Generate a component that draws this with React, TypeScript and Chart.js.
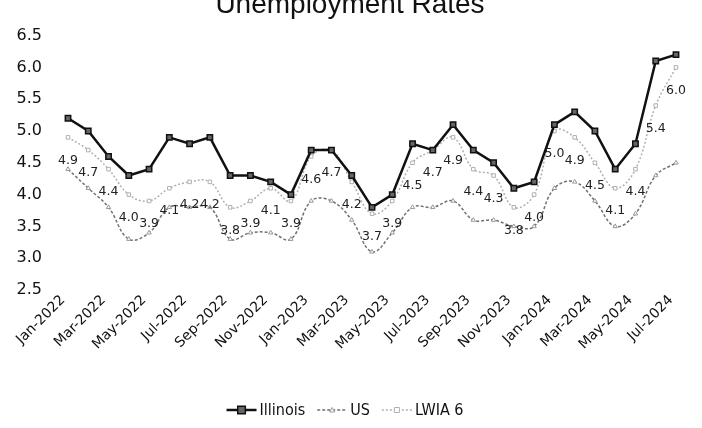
import { useEffect, useRef } from "react";
import { Chart, registerables } from "chart.js";

Chart.register(...registerables);

const categories = [
  "Jan-2022", "Feb-2022", "Mar-2022", "Apr-2022", "May-2022", "Jun-2022",
  "Jul-2022", "Aug-2022", "Sep-2022", "Oct-2022", "Nov-2022", "Dec-2022",
  "Jan-2023", "Feb-2023", "Mar-2023", "Apr-2023", "May-2023", "Jun-2023",
  "Jul-2023", "Aug-2023", "Sep-2023", "Oct-2023", "Nov-2023", "Dec-2023",
  "Jan-2024", "Feb-2024", "Mar-2024", "Apr-2024", "May-2024", "Jun-2024",
  "Jul-2024",
];

const illinois = [5.2, 5.0, 4.6, 4.3, 4.4, 4.9, 4.8, 4.9, 4.3, 4.3, 4.2, 4.0, 4.7, 4.7, 4.3, 3.8, 4.0, 4.8, 4.7, 5.1, 4.7, 4.5, 4.1, 4.2, 5.1, 5.3, 5.0, 4.4, 4.8, 6.1, 6.2];
const us = [4.4, 4.1, 3.8, 3.3, 3.4, 3.8, 3.8, 3.8, 3.3, 3.4, 3.4, 3.3, 3.9, 3.9, 3.6, 3.1, 3.4, 3.8, 3.8, 3.9, 3.6, 3.6, 3.5, 3.5, 4.1, 4.2, 3.9, 3.5, 3.7, 4.3, 4.5];
const lwia6 = [4.9, 4.7, 4.4, 4.0, 3.9, 4.1, 4.2, 4.2, 3.8, 3.9, 4.1, 3.9, 4.6, 4.7, 4.2, 3.7, 3.9, 4.5, 4.7, 4.9, 4.4, 4.3, 3.8, 4.0, 5.0, 4.9, 4.5, 4.1, 4.4, 5.4, 6.0];

const seriesNames = ["Illinois", "US", "LWIA 6"];
const titleText = "Unemployment Rates";
const yMin = 2.5;
const yMax = 6.5;
const yStep = 0.5;

const FONT = "'DejaVu Sans', sans-serif";

const decor = {
  id: "decor",
  afterDatasetsDraw(chart: any) {
    const ctx = chart.ctx;
    const meta = chart.getDatasetMeta(2);
    const vals = chart.data.datasets[2].data as number[];
    ctx.save();
    ctx.font = `12.5px ${FONT}`;
    ctx.fillStyle = "#222";
    ctx.textAlign = "center";
    ctx.textBaseline = "middle";
    meta.data.forEach((pt: any, i: number) => {
      ctx.fillText(vals[i].toFixed(1), pt.x, pt.y + 23);
    });
    ctx.restore();
  },
  afterDraw(chart: any) {
    const ctx = chart.ctx;
    ctx.save();
    // title
    ctx.font = `28px 'Liberation Sans', Arial, sans-serif`;
    ctx.fillStyle = "#111";
    ctx.textAlign = "center";
    ctx.textBaseline = "alphabetic";
    ctx.fillText(titleText, 350, 13);

    // legend
    const sample = 30;
    const gapText = 3;
    const gapItem = 12;
    ctx.font = `16px 'DejaVu Sans Condensed', 'DejaVu Sans', sans-serif`;
    const ds = chart.data.datasets;
    const widths = ds.map((d: any) => sample + gapText + ctx.measureText(d.label).width);
    const total = widths.reduce((a: number, b: number) => a + b, 0) + gapItem * (ds.length - 1);
    let x = 345 - total / 2;
    const y = 410;
    ds.forEach((d: any, i: number) => {
      ctx.save();
      ctx.strokeStyle = d.borderColor;
      ctx.lineWidth = d.borderWidth;
      ctx.setLineDash(d.borderDash || []);
      ctx.beginPath();
      ctx.moveTo(x, y);
      ctx.lineTo(x + sample, y);
      ctx.stroke();
      ctx.setLineDash([]);
      const cx = x + sample / 2;
      const r = d.pointRadius;
      ctx.fillStyle = d.pointBackgroundColor;
      ctx.strokeStyle = d.pointBorderColor;
      ctx.lineWidth = d.pointBorderWidth;
      ctx.beginPath();
      if (d.pointStyle === "triangle") {
        ctx.moveTo(cx, y - r);
        ctx.lineTo(cx + r, y + r * 0.8);
        ctx.lineTo(cx - r, y + r * 0.8);
        ctx.closePath();
      } else {
        ctx.rect(cx - r, y - r, 2 * r, 2 * r);
      }
      ctx.fill();
      ctx.stroke();
      ctx.restore();
      ctx.fillStyle = "#111";
      ctx.textAlign = "left";
      ctx.textBaseline = "middle";
      ctx.fillText(d.label, x + sample + gapText, y + 1);
      x += widths[i] + gapItem;
    });
    ctx.restore();
  },
};

export default function App() {
  const ref = useRef<HTMLCanvasElement | null>(null);

  useEffect(() => {
    if (!ref.current) return;
    const chart = new Chart(ref.current, {
      type: "line",
      data: {
        labels: categories,
        datasets: [
          {
            label: seriesNames[0],
            data: illinois,
            borderColor: "#111",
            borderWidth: 2.5,
            tension: 0,
            pointStyle: "rect",
            pointRadius: 3.8,
            pointBackgroundColor: "#666",
            pointBorderColor: "#111",
            pointBorderWidth: 1.5,
            order: 0,
          },
          {
            label: seriesNames[1],
            data: us,
            borderColor: "#707070",
            borderWidth: 1.5,
            borderDash: [3, 2],
            tension: 0.4,
            pointStyle: "triangle",
            pointRadius: 2.5,
            pointBackgroundColor: "#fff",
            pointBorderColor: "#999",
            pointBorderWidth: 1,
            order: 2,
          },
          {
            label: seriesNames[2],
            data: lwia6,
            borderColor: "#b0b0b0",
            borderWidth: 1.5,
            borderDash: [2, 2],
            tension: 0.4,
            pointStyle: "rect",
            pointRadius: 2.5,
            pointBackgroundColor: "#fff",
            pointBorderColor: "#b0b0b0",
            pointBorderWidth: 1,
            order: 1,
          },
        ],
      },
      options: {
        animation: false,
        responsive: true,
        maintainAspectRatio: false,
        layout: { padding: { top: 16, right: 26, bottom: 0, left: 0 } },
        plugins: {
          legend: { display: false },
          title: { display: false },
          tooltip: { enabled: false },
        },
        scales: {
          x: {
            offset: false,
            grid: { display: false, drawTicks: false },
            border: { display: false },
            afterFit: (s: any) => {
              s.height = 138;
            },
            ticks: {
              autoSkip: false,
              minRotation: 45,
              maxRotation: 45,
              padding: 2,
              labelOffset: -5,
              color: "#111",
              font: { family: FONT, size: 14 },
              callback: (_v: any, i: number) => (i % 2 === 0 ? categories[i] : ""),
            },
          },
          y: {
            min: yMin,
            max: yMax,
            grid: { display: false, drawTicks: false },
            border: { display: false },
            afterFit: (s: any) => {
              s.width = 68;
            },
            ticks: {
              stepSize: yStep,
              padding: 26,
              color: "#111",
              font: { family: FONT, size: 16 },
              callback: (v: any) => Number(v).toFixed(1),
            },
          },
        },
      },
      plugins: [decor],
    });
    return () => chart.destroy();
  }, []);

  return (
    <div style={{ position: "fixed", left: 0, top: 0, width: 702, height: 428, background: "#fff" }}>
      <canvas ref={ref} />
    </div>
  );
}
